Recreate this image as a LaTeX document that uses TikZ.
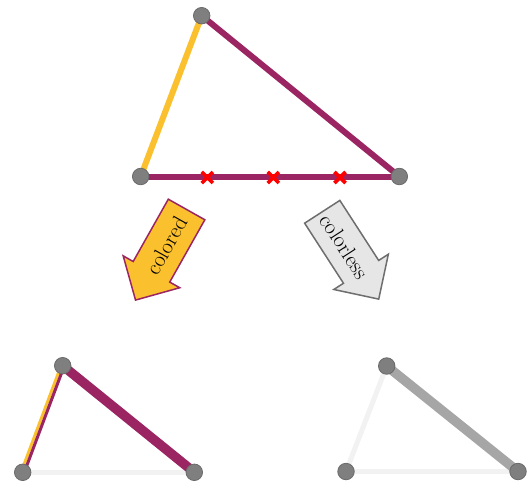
\documentclass[tikz,border=0pt]{standalone}
\usetikzlibrary{shapes.arrows,shapes.misc}
\definecolor{mag}{HTML}{9B2562}
\definecolor{yel}{HTML}{FBC02D}
\definecolor{vgray}{HTML}{7F7F7F}
\definecolor{vborder}{HTML}{6A6A6A}
\definecolor{faint}{HTML}{F2F2F2}
\definecolor{midgray}{HTML}{A6A6A6}
\definecolor{arrowgray}{HTML}{E6E6E6}
\definecolor{arrowborder}{HTML}{6E6E6E}
\tikzset{
  vertex/.style={circle, fill=vgray, draw=vborder, line width=0.8pt, minimum size=16.5pt, inner sep=0pt},
  edgemag/.style={draw=mag, line width=6pt},
  edgeyel/.style={draw=yel, line width=6pt},
  edgefaint/.style={draw=faint, line width=5pt},
  thickmag/.style={draw=mag, line width=9.5pt},
  thickgray/.style={draw=midgray, line width=9.5pt},
  crossmark/.style={cross out, draw=red, line width=3.6pt, minimum size=7.5pt, inner sep=0pt},
  bigarrow/.style={single arrow, line width=1.5pt, minimum height=104pt, inner xsep=1pt, inner ysep=12.5pt,
    single arrow head extend=11.5pt, font=\fontsize{22}{24}\selectfont}
}
\begin{document}
\begin{tikzpicture}[x=1pt,y=-1pt]
\useasboundingbox (0,0) rectangle (527,485);
% top triangle
\coordinate (A) at (201.7,15.7);
\coordinate (B) at (140.7,176.5);
\coordinate (C) at (399.3,176.5);
\draw[edgeyel] (A) -- (B);
\draw[edgemag] (A) -- (C);
\draw[edgemag] (B) -- (C);
\node[crossmark] (x1) at (207.3,177.5) {};
\node[crossmark] (x2) at (273.3,177.5) {};
\node[crossmark] (x3) at (340,177.5) {};
\node[vertex] (vA) at (A) {};
\node[vertex] (vB) at (B) {};
\node[vertex] (vC) at (C) {};
% arrows
\node[bigarrow, fill=yel, draw=mag, shape border rotate=180, rotate=60.6, anchor=tip] (colored) at (135,301) {colored};
\node[bigarrow, fill=arrowgray, draw=arrowborder, rotate=-57.1, anchor=tip] (colorless) at (379.3,300) {colorless};
% bottom left triangle
\coordinate (L1) at (62.7,365.7);
\coordinate (L2) at (22.7,472.3);
\coordinate (L3) at (194.3,472.3);
\draw[edgefaint] (L2) -- (L3);
\draw[draw=yel, line width=3pt, transform canvas={xshift=-1.4pt, yshift=0.53pt}] (L1) -- (L2);
\draw[draw=mag, line width=3pt, transform canvas={xshift=1.4pt, yshift=-0.53pt}] (L1) -- (L2);
\draw[thickmag] (L1) -- (L3);
\node[vertex] (l1) at (L1) {};
\node[vertex] (l2) at (L2) {};
\node[vertex] (l3) at (L3) {};
% bottom right triangle
\coordinate (R1) at (386.7,366);
\coordinate (R2) at (346,471.5);
\coordinate (R3) at (518,471.5);
\draw[edgefaint] (R2) -- (R3);
\draw[edgefaint] (R1) -- (R2);
\draw[thickgray] (R1) -- (R3);
\node[vertex] (r1) at (R1) {};
\node[vertex] (r2) at (R2) {};
\node[vertex] (r3) at (R3) {};
\end{tikzpicture}
\end{document}
